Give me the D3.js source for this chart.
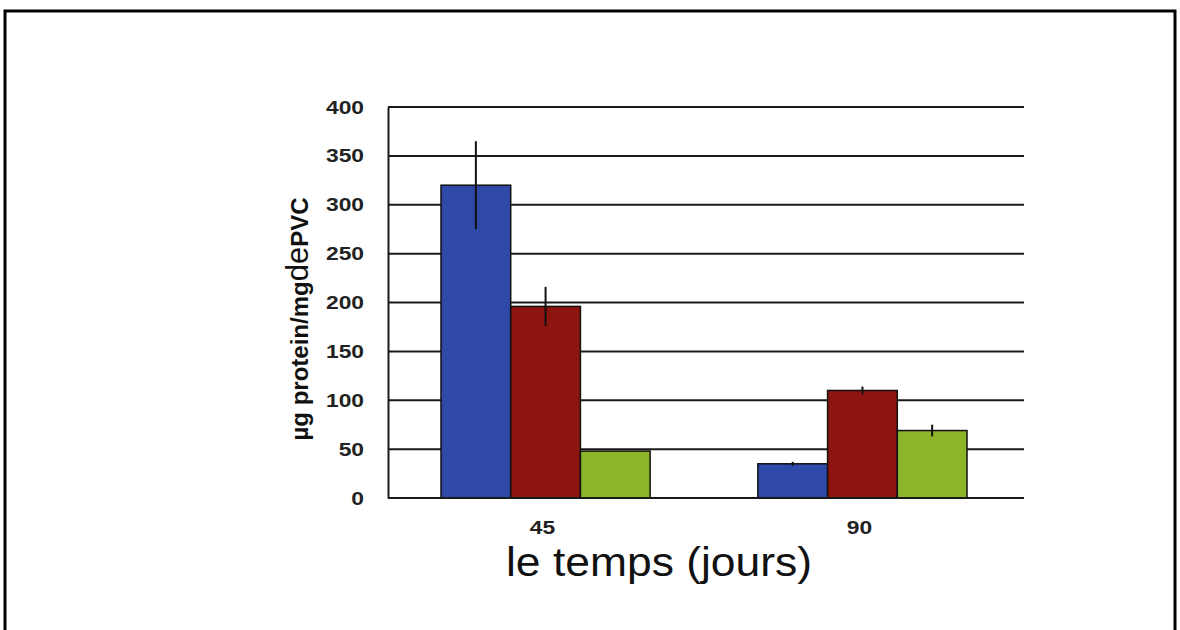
<!DOCTYPE html>
<html>
<head>
<meta charset="utf-8">
<script src="https://cdn.jsdelivr.net/npm/d3@7"></script>
<style>
  html, body { margin: 0; padding: 0; background: #fff; }
  svg { display: block; }
</style>
</head>
<body>
<script>
// Days of incubation (x categories)
const days = ["45", "90"];
// Three series per day
const seriesNames = ["s1", "s2", "s3"];
const seriesColors = ["#2f49a8", "#8e1410", "#8db52a"];
// Mean values (µg protein / mg de PVC)
const values45 = [320, 196, 48];
const values90 = [35, 110, 69];
// Error bar half-widths
const errors45 = [45, 20, 0];
const errors90 = [2, 4, 6];
// Y tick values
const yTicks = [0, 50, 100, 150, 200, 250, 300, 350, 400];

const W = 1180, H = 630;
const svg = d3.select("body").append("svg").attr("width", W).attr("height", H);

// Widen glyphs horizontally by a factor
function widen(sel, k) {
  sel.each(function () {
    const w = this.getComputedTextLength();
    d3.select(this).attr("textLength", w * k).attr("lengthAdjust", "spacingAndGlyphs");
  });
}

// Outer frame (open at the bottom edge)
svg.append("path")
  .attr("d", `M5,${H} V11 H1175 V${H}`)
  .attr("fill", "none").attr("stroke", "#000").attr("stroke-width", 3);

const plot = { left: 388, right: 1024, top: 107, bottom: 498 };

const y = d3.scaleLinear().domain([0, 400]).range([plot.bottom, plot.top]);
const x0 = d3.scaleBand().domain(days).range([441, 967]).paddingInner(0.34).paddingOuter(0);
const x1 = d3.scaleBand().domain(seriesNames).range([0, x0.bandwidth()]);

// Horizontal grid lines
svg.append("g")
  .selectAll("line").data(yTicks.slice(1)).join("line")
  .attr("x1", plot.left).attr("x2", plot.right)
  .attr("y1", d => y(d)).attr("y2", d => y(d))
  .attr("stroke", "#1a1a1a").attr("stroke-width", 2);

// Y axis
const yAxis = svg.append("g")
  .attr("transform", `translate(${plot.left},0)`)
  .call(d3.axisLeft(y).tickValues(yTicks).tickSize(0).tickPadding(24));
yAxis.select(".domain").attr("stroke", "#1a1a1a").attr("stroke-width", 2);
yAxis.selectAll("text")
  .attr("font-family", "Liberation Sans, Arial, sans-serif")
  .attr("font-size", 19).attr("font-weight", "bold").attr("fill", "#222")
  .call(widen, 1.2);

// Bars
const rows = [
  { day: "45", vals: values45, errs: errors45 },
  { day: "90", vals: values90, errs: errors90 }
];
const groups = svg.append("g").selectAll("g").data(rows).join("g")
  .attr("transform", d => `translate(${x0(d.day)},0)`);

const items = d => d.vals.map((v, i) => ({ key: seriesNames[i], v, e: d.errs[i], c: seriesColors[i] }));

groups.selectAll("rect").data(items).join("rect")
  .attr("x", d => x1(d.key))
  .attr("y", d => y(d.v))
  .attr("width", x1.bandwidth())
  .attr("height", d => y(0) - y(d.v))
  .attr("fill", d => d.c)
  .attr("stroke", "#111").attr("stroke-width", 1.5);

// Error bars
groups.selectAll("line.err").data(d => items(d).filter(o => o.e > 0)).join("line")
  .attr("class", "err")
  .attr("x1", d => x1(d.key) + x1.bandwidth() / 2)
  .attr("x2", d => x1(d.key) + x1.bandwidth() / 2)
  .attr("y1", d => y(d.v + d.e))
  .attr("y2", d => y(d.v - d.e))
  .attr("stroke", "#111").attr("stroke-width", 2);

// X axis baseline
svg.append("line")
  .attr("x1", plot.left).attr("x2", plot.right)
  .attr("y1", y(0)).attr("y2", y(0))
  .attr("stroke", "#1a1a1a").attr("stroke-width", 2);

// X tick labels
svg.append("g").selectAll("text").data(days).join("text")
  .attr("x", d => x0(d) + x0.bandwidth() / 2 - 3)
  .attr("y", 534)
  .attr("text-anchor", "middle")
  .attr("font-family", "Liberation Sans, Arial, sans-serif")
  .attr("font-size", 19).attr("font-weight", "bold").attr("fill", "#222")
  .text(d => d)
  .call(widen, 1.2);

// X axis title
svg.append("text")
  .attr("x", 659).attr("y", 576)
  .attr("text-anchor", "middle")
  .attr("font-family", "Liberation Sans, Arial, sans-serif")
  .attr("font-size", 40).attr("fill", "#111")
  .attr("textLength", 306).attr("lengthAdjust", "spacingAndGlyphs")
  .text("le temps (jours)");

// Y axis title
const yt = svg.append("text")
  .attr("transform", "translate(308,319) rotate(-90)")
  .attr("text-anchor", "middle")
  .attr("font-family", "Liberation Sans, Arial, sans-serif")
  .attr("fill", "#111");
yt.append("tspan").attr("font-size", 24).attr("font-weight", "bold").text("µg protein/mg");
yt.append("tspan").attr("font-size", 31).text("de");
yt.append("tspan").attr("font-size", 24).attr("font-weight", "bold").text("PVC");
</script>
</body>
</html>
